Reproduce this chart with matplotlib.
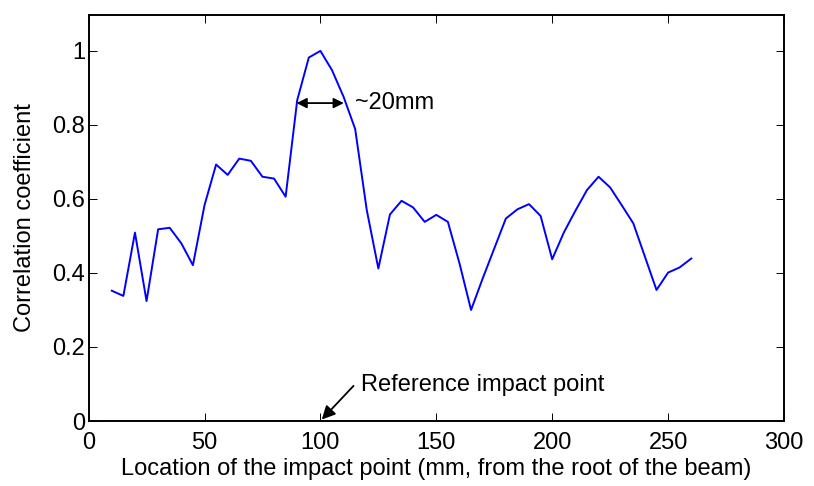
import matplotlib
matplotlib.use("Agg")
import matplotlib.pyplot as plt

location_mm = [10, 15, 20, 25, 30, 35, 40, 45, 50, 55, 60, 65, 70, 75, 80, 85,
               90, 95, 100, 105, 110, 115, 120, 125, 130, 135, 140, 145, 150,
               155, 160, 165, 170, 175, 180, 185, 190, 195, 200, 205, 210, 215,
               220, 225, 230, 235, 240, 245, 250, 255, 260]
correlation = [0.352, 0.338, 0.509, 0.324, 0.518, 0.522, 0.480, 0.421, 0.583,
               0.693, 0.665, 0.709, 0.703, 0.660, 0.655, 0.606, 0.867, 0.982,
               1.000, 0.948, 0.876, 0.789, 0.570, 0.412, 0.558, 0.595, 0.577,
               0.538, 0.557, 0.538, 0.426, 0.300, 0.385, 0.466, 0.547, 0.572,
               0.586, 0.554, 0.437, 0.509, 0.568, 0.624, 0.660, 0.631, 0.583,
               0.534, 0.444, 0.354, 0.401, 0.415, 0.439]
x_ticks = [0, 50, 100, 150, 200, 250, 300]
y_ticks = [0, 0.2, 0.4, 0.6, 0.8, 1.0]
y_tick_labels = ["0", "0.2", "0.4", "0.6", "0.8", "1"]

plt.rcParams['font.family'] = ['Liberation Sans', 'DejaVu Sans']
FS = 17

fig = plt.figure(figsize=(8.14, 4.86), dpi=100)
ax = fig.add_axes([88.6 / 814, 1 - 421 / 486, (784 - 88.6) / 814, (421 - 15) / 486])

ax.plot(location_mm, correlation, color=(0, 0, 1), linewidth=1.4)

ax.set_xlim(0, 300)
ax.set_ylim(0, 1.097)
ax.set_xticks(x_ticks)
ax.set_yticks(y_ticks)
ax.set_yticklabels(y_tick_labels)
ax.tick_params(direction='in', top=True, right=True, length=5.5, width=0.7,
               labelsize=FS)
ax.tick_params(axis='x', pad=8)
ax.tick_params(axis='y', pad=2.5)
for s in ax.spines.values():
    s.set_linewidth(1.4)

ax.set_xlabel("Location of the impact point (mm, from the root of the beam)", fontsize=FS, labelpad=3)
ax.set_ylabel("Correlation coefficient", fontsize=FS, labelpad=12)

# ~20mm double arrow
ax.annotate("", xy=(89.7, 0.859), xytext=(110.1, 0.859),
            arrowprops=dict(arrowstyle="<|-|>", color="black", lw=1.3,
                            shrinkA=0, shrinkB=0, mutation_scale=15))
ax.text(115.0, 0.859, "~20mm", fontsize=FS, va="center", ha="left")

# Reference impact point arrow
ax.annotate("", xy=(100.6, 0.004), xytext=(114.3, 0.095),
            arrowprops=dict(arrowstyle="-|>", color="black", lw=1.3,
                            shrinkA=0, shrinkB=0, mutation_scale=20))
ax.text(117.5, 0.097, "Reference impact point", fontsize=FS, va="center", ha="left")

fig.savefig("out.png", dpi=100)
